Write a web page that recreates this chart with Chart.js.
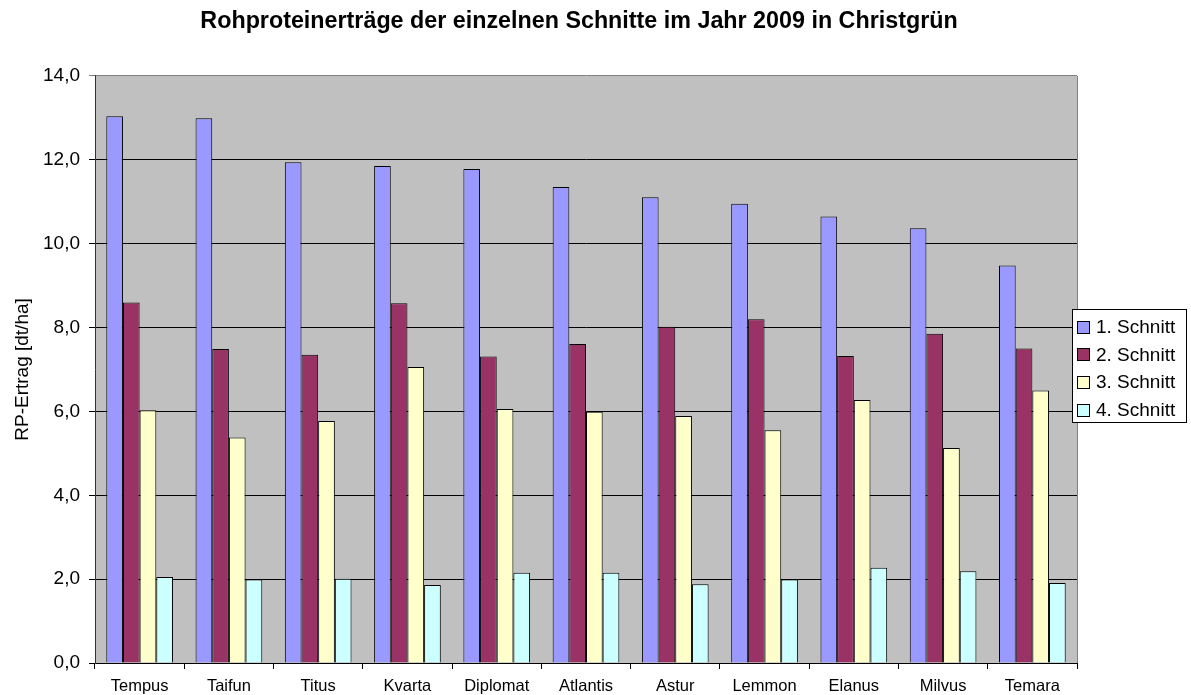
<!DOCTYPE html>
<html lang="de">
<head>
    <meta charset="UTF-8">
    <title>Rohproteinerträge 2009 Christgrün</title>
    <script src="https://cdn.jsdelivr.net/npm/chart.js"></script>
    <style>
        html, body { margin: 0; padding: 0; background: #fff; }
        #wrap { width: 1191px; height: 695px; }
    </style>
</head>
<body>
<div id="wrap"><canvas id="rpChart" width="1191" height="695"></canvas></div>
<script>
    // Daten
    const sorten = ['Tempus', 'Taifun', 'Titus', 'Kvarta', 'Diplomat', 'Atlantis', 'Astur', 'Lemmon', 'Elanus', 'Milvus', 'Temara'];
    const schnitt1 = [13.04, 12.99, 11.94, 11.85, 11.78, 11.35, 11.11, 10.95, 10.65, 10.37, 9.48];
    const schnitt2 = [8.60, 7.49, 7.35, 8.58, 7.31, 7.61, 8.02, 8.20, 7.32, 7.85, 7.50];
    const schnitt3 = [6.03, 5.38, 5.77, 7.06, 6.06, 5.99, 5.89, 5.55, 6.27, 5.13, 6.50];
    const schnitt4 = [2.05, 1.99, 2.01, 1.86, 2.15, 2.15, 1.88, 1.99, 2.27, 2.19, 1.91];
    const serienNamen = ['1. Schnitt', '2. Schnitt', '3. Schnitt', '4. Schnitt'];
    const farben = ['#9999FF', '#993366', '#FFFFCC', '#CCFFFF'];

    const FONT = "'Liberation Sans', Arial, sans-serif";

    // grauer Hintergrund der Zeichenfläche + rechter Rand
    const plotBg = {
        id: 'plotBg',
        beforeDraw(chart) {
            const { ctx, chartArea: a } = chart;
            ctx.save();
            ctx.fillStyle = '#fff';
            ctx.fillRect(0, 0, chart.width, chart.height);
            ctx.fillStyle = '#C0C0C0';
            ctx.fillRect(a.left, a.top, a.right - a.left, a.bottom - a.top);
            ctx.restore();
        },
        afterDatasetsDraw(chart) {
            const { ctx, chartArea: a } = chart;
            ctx.save();
            ctx.strokeStyle = '#808080';
            ctx.lineWidth = 1;
            ctx.beginPath();
            ctx.moveTo(Math.round(a.right) + 0.5, a.top);
            ctx.lineTo(Math.round(a.right) + 0.5, a.bottom);
            ctx.stroke();
            ctx.restore();
        }
    };

    // Legende mit Rahmen (überlappt rechts leicht die Zeichenfläche)
    const boxLegend = {
        id: 'boxLegend',
        afterDraw(chart) {
            const { ctx } = chart;
            const x = 1072.5, y = 309.5, w = 114, h = 113;
            ctx.save();
            ctx.fillStyle = '#fff';
            ctx.fillRect(x, y, w, h);
            ctx.strokeStyle = '#000';
            ctx.lineWidth = 1;
            ctx.strokeRect(x, y, w, h);
            ctx.font = '19px ' + FONT;
            ctx.textBaseline = 'middle';
            ctx.textAlign = 'left';
            chart.data.datasets.forEach((ds, i) => {
                const cy = y + 17 + i * 27.8;
                ctx.fillStyle = ds.backgroundColor;
                ctx.fillRect(1077.5, Math.round(cy - 6) + 0.5, 12, 12);
                ctx.strokeStyle = '#000';
                ctx.strokeRect(1077.5, Math.round(cy - 6) + 0.5, 12, 12);
                ctx.fillStyle = '#000';
                ctx.fillText(ds.label, 1096, cy + 1);
            });
            ctx.restore();
        }
    };

    const serien = [schnitt1, schnitt2, schnitt3, schnitt4];

    new Chart(document.getElementById('rpChart').getContext('2d'), {
        type: 'bar',
        data: {
            labels: sorten,
            datasets: serien.map((werte, i) => ({
                label: serienNamen[i],
                data: werte,
                backgroundColor: farben[i],
                borderColor: '#000',
                borderWidth: 1,
                barPercentage: 1.0,
                categoryPercentage: 0.747
            }))
        },
        options: {
            responsive: false,
            animation: false,
            layout: { padding: { left: 0, right: 33, top: 0, bottom: 0 } },
            plugins: {
                legend: { display: false },
                tooltip: { enabled: false },
                title: {
                    display: true,
                    text: 'Rohproteinerträge der einzelnen Schnitte im Jahr 2009 in Christgrün',
                    color: '#000',
                    font: { family: FONT, size: 23.3, weight: 'bold' },
                    padding: { top: 8, bottom: 40 }
                }
            },
            scales: {
                x: {
                    offset: true,
                    grid: {
                        offset: true,
                        drawOnChartArea: false,
                        drawTicks: true,
                        tickLength: 6,
                        color: '#000'
                    },
                    border: { color: '#000', width: 1 },
                    ticks: {
                        color: '#000',
                        padding: 8,
                        maxRotation: 0,
                        autoSkip: false,
                        font: { family: FONT, size: 16.5 }
                    },
                    afterFit(scale) { scale.height = 32; }
                },
                y: {
                    min: 0,
                    max: 14,
                    grid: {
                        color: ctx => (ctx.tick && ctx.tick.value === 14) ? '#808080' : '#000',
                        tickLength: 6,
                        drawTicks: true
                    },
                    border: { color: '#333', width: 1 },
                    ticks: {
                        stepSize: 2,
                        color: '#000',
                        padding: 9,
                        font: { family: FONT, size: 19 },
                        callback: v => v.toFixed(1).replace('.', ',')
                    },
                    title: {
                        display: true,
                        text: 'RP-Ertrag [dt/ha]',
                        color: '#000',
                        font: { family: FONT, size: 19 },
                        padding: { top: 11, bottom: 0 }
                    },
                    afterFit(scale) { scale.width = 95; }
                },
                // leere Achse rechts: reserviert Platz für die Legende
                platz: {
                    type: 'linear',
                    position: 'right',
                    grid: { display: false, drawTicks: false },
                    border: { display: false },
                    ticks: { display: false },
                    afterFit(scale) { scale.width = 81; }
                }
            }
        },
        plugins: [plotBg, boxLegend]
    });
</script>
</body>
</html>
